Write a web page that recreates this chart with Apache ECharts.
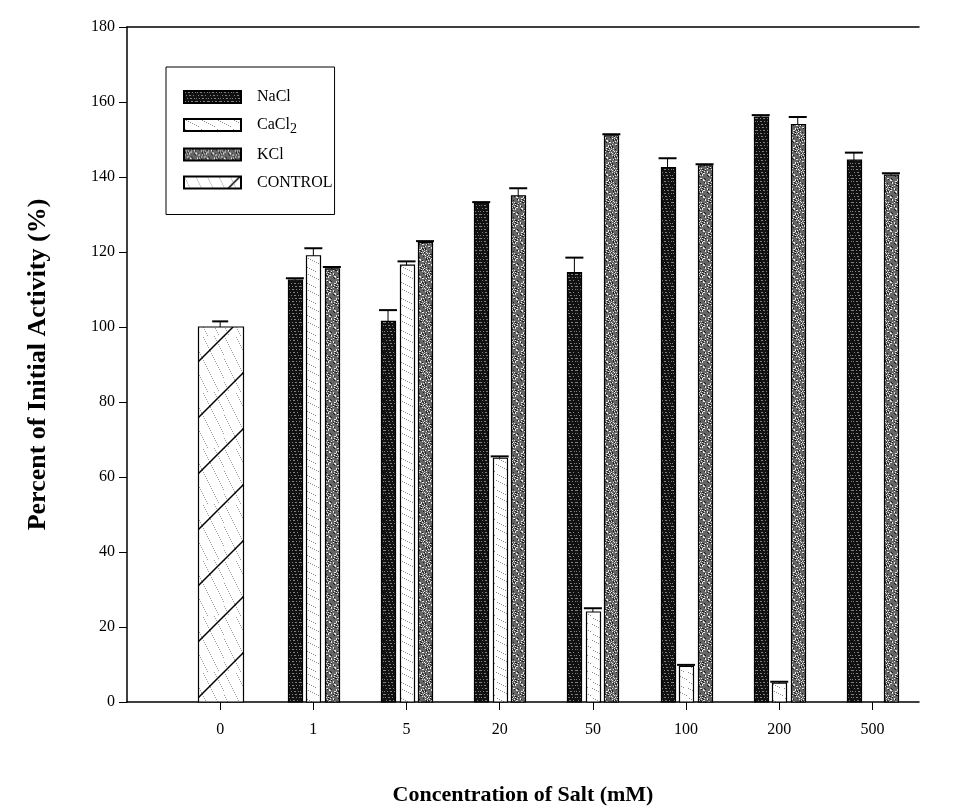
<!DOCTYPE html>
<html>
<head>
<meta charset="utf-8">
<script src="https://cdn.jsdelivr.net/npm/echarts@6/dist/echarts.min.js"></script>
<style>
  html, body { margin: 0; padding: 0; background: #fff; }
  #chart { width: 954px; height: 812px; }
</style>
</head>
<body>
<div id="chart"></div>
<script>
// Salt concentrations (mM) shown along the x axis; index 0 is the control.
const concentrations = ['0', '1', '5', '20', '50', '100', '200', '500'];
const saltIndices = [1, 2, 3, 4, 5, 6, 7];

// Percent of initial activity and upper error for each salt.
const naclValues   = [112.5, 101.5, 133.0, 114.5, 142.5, 156.0, 144.5];
const naclErrors   = [0.5, 3.0, 0.3, 4.0, 2.5, 0.5, 2.0];
const cacl2Values  = [119.0, 116.5, 65.0, 24.0, 9.5, 5.0, 0];
const cacl2Errors  = [2.0, 1.0, 0.5, 1.0, 0.4, 0.4, 0];
const kclValues    = [115.5, 122.5, 135.0, 151.0, 143.0, 154.0, 140.5];
const kclErrors    = [0.5, 0.4, 2.0, 0.4, 0.4, 2.0, 0.5];
const controlValue = [100.0];
const controlError = [1.5];

const yTicks = [0, 20, 40, 60, 80, 100, 120, 140, 160, 180];

// ---- fill textures -------------------------------------------------------
function makePattern(size, draw) {
  const c = document.createElement('canvas');
  c.width = size; c.height = size;
  const ctx = c.getContext('2d');
  draw(ctx, size);
  return { image: c, repeat: 'repeat' };
}

const naclFill = makePattern(12, (ctx, s) => {
  ctx.fillStyle = '#111111'; ctx.fillRect(0, 0, s, s);
  ctx.fillStyle = '#808080';
  for (let y = 1; y < s; y += 3) {
    for (let x = 0; x < s; x++) {
      if ((x * 5 + y * 3) % 7 < 3) ctx.fillRect(x, y, 1, 1);
    }
  }
});

const kclFill = makePattern(17, (ctx, s) => {
  ctx.fillStyle = '#666666'; ctx.fillRect(0, 0, s, s);
  for (let y = 0; y < s; y++) {
    for (let x = 0; x < s; x++) {
      const h = (x * 13 + y * 7 + x * y * 3) % 17;
      if (h === 0 || h === 5 || h === 14) { ctx.fillStyle = '#e6e6e6'; ctx.fillRect(x, y, 1, 1); }
      else if (h === 2 || h === 9) { ctx.fillStyle = '#1c1c1c'; ctx.fillRect(x, y, 1, 1); }
    }
  }
});

const cacl2Fill = makePattern(16, (ctx, s) => {
  ctx.fillStyle = '#ffffff'; ctx.fillRect(0, 0, s, s);
  ctx.fillStyle = '#8a8a8a';
  for (let y = 0; y < s; y++) {
    for (let x = 0; x < s; x++) {
      if ((x * 5 + y * 9) % 19 === 0) ctx.fillRect(x, y, 1, 1);
    }
  }
});

const controlFill = makePattern(56, (ctx, s) => {
  ctx.fillStyle = '#ffffff'; ctx.fillRect(0, 0, s, s);
  ctx.fillStyle = '#9a9a9a';
  for (let y = 0; y < s; y++) {
    for (let x = 0; x < s; x++) {
      if ((x * 5 + y * 9) % 23 === 0) ctx.fillRect(x, y, 1, 1);
    }
  }
  ctx.strokeStyle = '#000'; ctx.lineWidth = 1.5;
  for (const d of [-s, 0, s]) {
    ctx.beginPath();
    ctx.moveTo(d - 2, s + 2); ctx.lineTo(d + s + 2, -2);
    ctx.stroke();
  }
});

// ---- bar + error bar drawing via the axes' coordinate system -------------
function barRenderer(fill, offsetPx, widthPx, capPx) {
  return function (params, api) {
    const x = api.value(0), v = api.value(1), e = api.value(2);
    if (!(v > 0)) return { type: 'group', children: [] };
    const base = api.coord([x, 0]);
    const top = api.coord([x, v]);
    const errTop = api.coord([x, v + e]);
    const cx = base[0] + offsetPx;
    return {
      type: 'group',
      children: [
        {
          type: 'rect',
          shape: { x: Math.round(cx - widthPx / 2) + 0.5, y: top[1], width: widthPx, height: base[1] - top[1] },
          style: { fill: fill, stroke: '#000', lineWidth: 1.2 }
        },
        {
          type: 'line',
          shape: { x1: cx, y1: top[1], x2: cx, y2: errTop[1] },
          style: { stroke: '#000', lineWidth: 1 }
        },
        {
          type: 'line',
          shape: { x1: cx - capPx / 2, y1: errTop[1], x2: cx + capPx / 2, y2: errTop[1] },
          style: { stroke: '#000', lineWidth: 2 }
        }
      ]
    };
  };
}

function seriesData(values, errors) {
  return saltIndices.map((idx, i) => [idx, values[i], errors[i]]);
}

const serif = '"Liberation Serif", "DejaVu Serif", serif';

const chart = echarts.init(document.getElementById('chart'), null, { renderer: 'canvas' });

chart.setOption({
  animation: false,
  backgroundColor: '#ffffff',
  grid: { left: 127, right: 35, top: 27, bottom: 110 },
  legend: {
    orient: 'vertical',
    left: 166,
    top: 67,
    padding: [20, 2, 22, 17],
    itemGap: 8,
    itemWidth: 57,
    itemHeight: 12,
    borderColor: '#000',
    borderWidth: 1,
    icon: 'rect',
    data: ['NaCl', 'CaCl2', 'KCl', 'CONTROL'],
    formatter: name => '{g|}' + (name === 'CaCl2' ? 'CaCl{sub|2}' : name),
    textStyle: {
      fontFamily: serif, fontSize: 16, color: '#000', lineHeight: 20,
      rich: {
        g: { width: 11 },
        sub: { fontFamily: serif, fontSize: 14, color: '#000', padding: [9, 0, 0, 0] }
      }
    }
  },
  xAxis: [
    {
      type: 'value',
      min: -1,
      max: 7.5,
      interval: 1,
      name: 'Concentration of Salt (mM)',
      nameLocation: 'middle',
      nameGap: 82,
      nameTextStyle: { fontFamily: serif, fontSize: 22, fontWeight: 'bold', color: '#000' },
      axisLine: { show: true, onZero: false, lineStyle: { color: '#000', width: 1.5 } },
      axisTick: { show: true, length: 8, lineStyle: { color: '#000', width: 1 }, customValues: [0, 1, 2, 3, 4, 5, 6, 7] },
      axisLabel: {
        customValues: [0, 1, 2, 3, 4, 5, 6, 7],
        formatter: v => concentrations[Math.round(v)] ?? '',
        margin: 20,
        fontFamily: serif, fontSize: 16, color: '#000'
      },
      splitLine: { show: false }
    },
    {
      type: 'value',
      position: 'top',
      min: -1,
      max: 7.5,
      axisLine: { show: true, onZero: false, lineStyle: { color: '#000', width: 1.5 } },
      axisTick: { show: false },
      axisLabel: { show: false },
      splitLine: { show: false }
    }
  ],
  yAxis: {
    type: 'value',
    min: 0,
    max: 180,
    interval: 20,
    name: 'Percent of Initial Activity (%)',
    nameLocation: 'middle',
    nameGap: 76,
    nameTextStyle: { fontFamily: serif, fontSize: 26, fontWeight: 'bold', color: '#000' },
    axisLine: { show: true, onZero: false, lineStyle: { color: '#000', width: 1.5 } },
    axisTick: { show: true, inside: false, length: 8, lineStyle: { color: '#000', width: 1 } },
    axisLabel: {
      formatter: v => (yTicks.includes(v) ? String(v) : ''),
      margin: 12,
      fontFamily: serif, fontSize: 16, color: '#000'
    },
    splitLine: { show: false }
  },
  series: [
    {
      name: 'NaCl', type: 'custom',
      itemStyle: { color: naclFill, borderColor: '#000', borderWidth: 1 },
      encode: { x: 0, y: 1 },
      renderItem: barRenderer(naclFill, -18.5, 14, 18),
      data: seriesData(naclValues, naclErrors)
    },
    {
      name: 'CaCl2', type: 'custom',
      itemStyle: { color: cacl2Fill, borderColor: '#000', borderWidth: 1 },
      encode: { x: 0, y: 1 },
      renderItem: barRenderer(cacl2Fill, 0, 14, 18),
      data: seriesData(cacl2Values, cacl2Errors)
    },
    {
      name: 'KCl', type: 'custom',
      itemStyle: { color: kclFill, borderColor: '#000', borderWidth: 1 },
      encode: { x: 0, y: 1 },
      renderItem: barRenderer(kclFill, 18.5, 14, 18),
      data: seriesData(kclValues, kclErrors)
    },
    {
      name: 'CONTROL', type: 'custom',
      itemStyle: { color: controlFill, borderColor: '#000', borderWidth: 1 },
      encode: { x: 0, y: 1 },
      renderItem: barRenderer(controlFill, 0, 45, 16),
      data: [[0, controlValue[0], controlError[0]]]
    }
  ]
});
</script>
</body>
</html>
